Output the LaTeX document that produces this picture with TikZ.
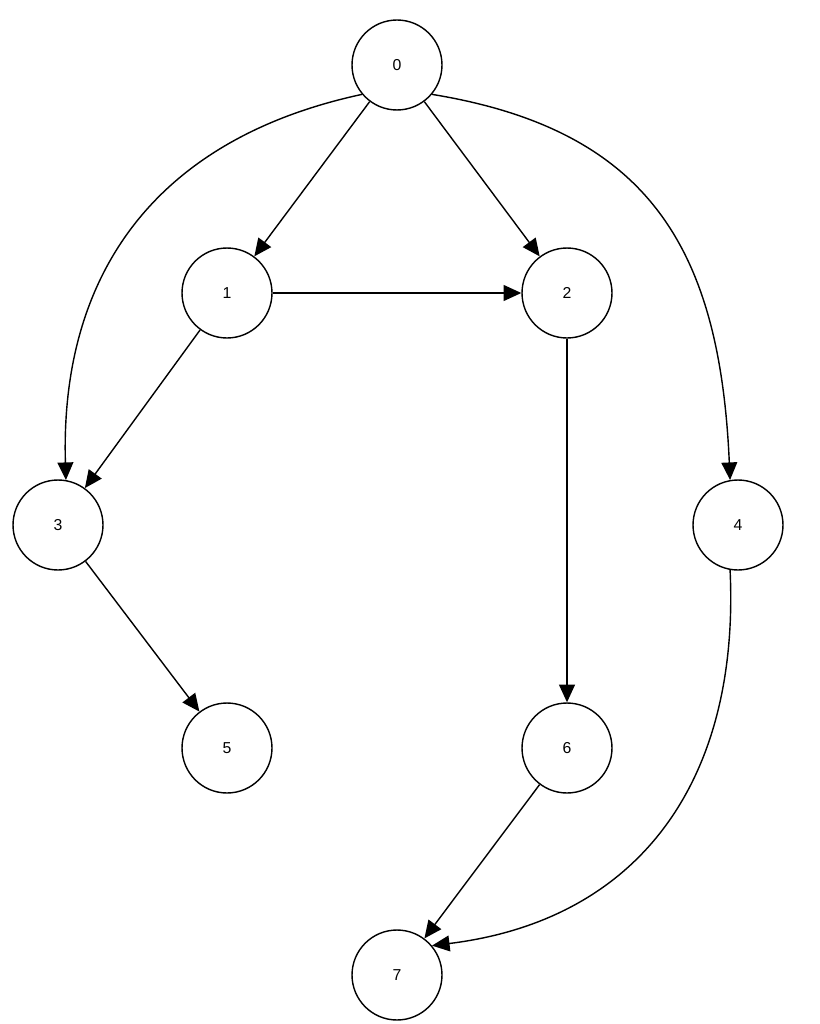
\documentclass[tikz,border=0pt]{standalone}
\usepackage{fontspec}
\setmainfont{Liberation Sans}
\usetikzlibrary{arrows.meta}
\begin{document}
\begin{tikzpicture}[x=0.02cm,y=-0.02cm,
  vtx/.style={circle,draw,thick,minimum size=1.8cm,inner sep=0pt,font=\small},
  edge/.style={draw,thick,-{Triangle[length=10pt,width=9pt]}}]
\useasboundingbox (0,0) rectangle (820,1024);
\node[vtx] (n0) at (397,65) {0};
\node[vtx] (n1) at (227,293) {1};
\node[vtx] (n2) at (567,293) {2};
\node[vtx] (n3) at (58,525) {3};
\node[vtx] (n4) at (738,525) {4};
\node[vtx] (n5) at (227,748) {5};
\node[vtx] (n6) at (567,748) {6};
\node[vtx] (n7) at (397,975) {7};
\draw[edge] (n0) -- (n1);
\draw[edge] (n0) -- (n2);
\draw[edge] (n1) -- (n2);
\draw[edge] (n1) -- (n3);
\draw[edge] (n2) -- (n6);
\draw[edge] (n3) -- (n5);
\draw[edge] (n6) -- (n7);
\draw[edge] (n0.220) .. controls (150,140) and (60,280) .. (n3.80);
\draw[edge] (n0.-40) .. controls (650,130) and (720,250) .. (n4.100);
\draw[edge] (n4.-100) .. controls (740,780) and (640,920) .. (n7.40);
\end{tikzpicture}
\end{document}
